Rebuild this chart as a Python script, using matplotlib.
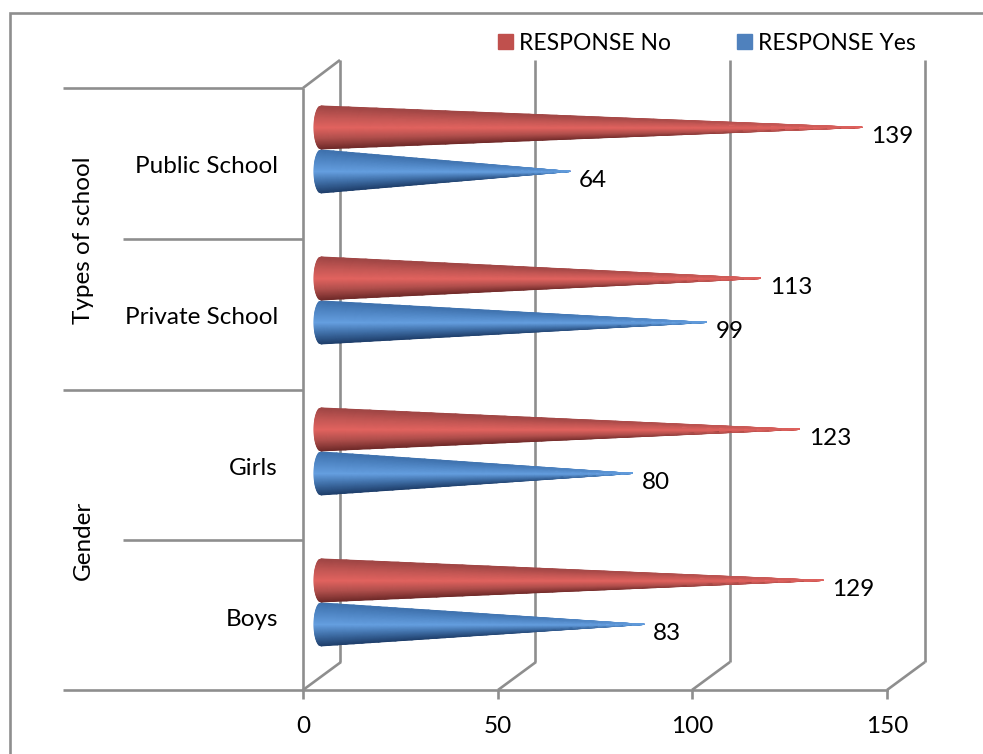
import numpy as np
import matplotlib.pyplot as plt
from matplotlib.colors import LinearSegmentedColormap
from matplotlib.patches import Patch

categories = ['Boys', 'Girls', 'Private School', 'Public School']
response_no = [129, 123, 113, 139]
response_yes = [83, 80, 99, 64]
x_ticks = [0, 50, 100, 150]
groups = ['Gender', 'Types of school']

plt.rcParams['font.family'] = ['Lato', 'DejaVu Sans']
W, H = 983, 754
GREY = '#8e8e8e'
FS = 17.5

fig = plt.figure(figsize=(W / 100, H / 100), dpi=100, facecolor='white')

# frame, walls and category separators are laid out in pixels
deco = fig.add_axes([0, 0, 1, 1])
deco.set_xlim(0, W)
deco.set_ylim(H, 0)
deco.axis('off')


def seg(xs, ys, lw=1.9):
    deco.plot(xs, ys, color=GREY, lw=lw, solid_capstyle='butt', solid_joinstyle='miter')


seg([10, 10, W], [H, 13, 13])
seg([303, 303], [88, 690])
seg([303, 340], [88, 60])
for px in [303, 498, 692, 887]:
    seg([px, px + 38], [690, 662])
for px in [340, 535, 730, 925]:
    seg([px, px], [60, 662])
for x0, y0 in [(63, 88), (123, 239), (63, 390), (123, 540), (63, 690)]:
    seg([x0, 303], [y0, y0])

# value axis sits on the front edge of the floor
ax = fig.add_axes([303 / W, 1 - 690 / H, (887 - 303) / W, (690 - 88) / H])
ax.patch.set_alpha(0)
ax.set_xlim(0, 150)
ax.set_ylim(-0.58, 3.407)
for side in ['top', 'left', 'right']:
    ax.spines[side].set_visible(False)
ax.spines['bottom'].set_color(GREY)
ax.spines['bottom'].set_linewidth(1.9)
ax.set_yticks([])
ax.set_xticks(x_ticks)
ax.tick_params(axis='x', length=6.5, width=1.9, color=GREY, pad=12, labelsize=FS)

red_map = LinearSegmentedColormap.from_list('red_cone', ['#6f2a29', '#b04f4c', '#e2635f', '#c45754', '#a04645'])
blue_map = LinearSegmentedColormap.from_list('blue_cone', ['#1f3f6b', '#3f6ea6', '#659fe0', '#5289c8', '#3f72ae'])

DEPTH = 18 / 3.893   # cone axis starts this far behind the front wall
HALF = 21.5 / 151    # base radius
CAP = 7 / 3.893      # horizontal radius of the base ellipse


def cone(value, yc, cmap):
    t = np.linspace(0, 1, 40)
    v = np.linspace(-1, 1, 41)
    tt, vv = np.meshgrid(t, v)
    xx = DEPTH + value * tt - CAP * np.sqrt(1 - vv ** 2) * (1 - tt)
    yy = yc + HALF * vv * (1 - tt)
    # shading fades towards the mid tone near the point
    shade = 0.5 + vv / 2 * (1 - tt ** 4)
    ax.pcolormesh(xx, yy, shade, cmap=cmap, shading='gouraud', vmin=0, vmax=1,
                  clip_on=False, zorder=3)
    ax.annotate(str(value), (DEPTH + value, yc), xytext=(9, -9), textcoords='offset pixels',
                ha='left', va='center', fontsize=FS, color='black', zorder=5)


for i, cat in enumerate(categories):
    yes_y = i - 22 / 151
    no_y = i + 22 / 151
    cone(response_yes[i], yes_y, blue_map)
    cone(response_no[i], no_y, red_map)
    ax.annotate(cat, (0, i), xytext=(-25, -17), textcoords='offset pixels',
                ha='right', va='center', fontsize=FS, annotation_clip=False)

ax.annotate(groups[0], (0, 0.41), xytext=(-220, 0), textcoords='offset pixels', rotation=90,
            ha='center', va='center', fontsize=FS, annotation_clip=False)
ax.annotate(groups[1], (0, 2.4), xytext=(-220, 0), textcoords='offset pixels', rotation=90,
            ha='center', va='center', fontsize=FS, annotation_clip=False)

handles = [Patch(color='#c0504d', label='RESPONSE No'), Patch(color='#4f81bd', label='RESPONSE Yes')]
fig.legend(handles=handles, ncol=2, frameon=False, fontsize=16.5, loc='center left',
           bbox_to_anchor=(498 / W, 1 - 43 / H), handlelength=0.65, handleheight=0.65,
           handletextpad=0.27, columnspacing=2.88, borderaxespad=0, borderpad=0)

fig.savefig('out.png', dpi=100)
